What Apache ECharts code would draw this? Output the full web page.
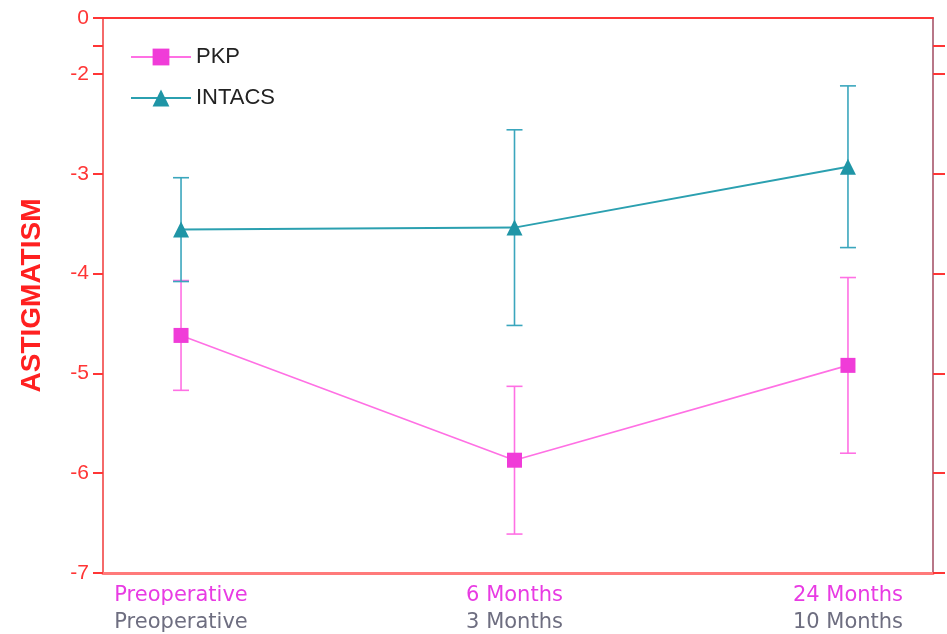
<!DOCTYPE html>
<html>
<head>
<meta charset="utf-8">
<script src="https://cdn.jsdelivr.net/npm/echarts@6/dist/echarts.min.js"></script>
<style>
html,body{margin:0;padding:0;background:#fff;}
#chart{width:947px;height:634px;}
</style>
</head>
<body>
<div id="chart"></div>
<script>
// ---- data ----
var categories = ['Preoperative', '6 Months', '24 Months'];
var categoriesSecondary = ['Preoperative', '3 Months', '10 Months'];
var pkpMean = [-4.62, -5.87, -4.92];
var pkpErr = [0.55, 0.74, 0.88];
var intacsMean = [-3.56, -3.54, -2.93];
var intacsErr = [0.52, 0.98, 0.81];
var yTickValues = [-7, -6, -5, -4, -3, -2];
var yTopValue = -1.44;      // broken-axis top, labelled "0"
var yTopLabel = '0';
var yBreakCap = -1.72;

var PKP_COLOR = '#f03cd8';
var PKP_LINE = '#ff70e4';
var INT_COLOR = '#1f95a6';
var INT_LINE = '#2ba0b0';
var INT_ERR = '#3aa6bd';
var AXIS_RED = '#ff3535';

function pairs(arr) { return arr.map(function (v, i) { return [i, v]; }); }
function errData(mean, err) {
  return mean.map(function (v, i) { return [i, v - err[i], v + err[i]]; });
}
function errRender(color) {
  return function (params, api) {
    var x = api.value(0);
    var lo = api.coord([x, api.value(1)]);
    var hi = api.coord([x, api.value(2)]);
    var half = 8;
    var st = { stroke: color, lineWidth: 1.6 };
    return {
      type: 'group',
      children: [
        { type: 'line', shape: { x1: lo[0], y1: lo[1], x2: hi[0], y2: hi[1] }, style: st },
        { type: 'line', shape: { x1: lo[0] - half, y1: lo[1], x2: lo[0] + half, y2: lo[1] }, style: st },
        { type: 'line', shape: { x1: hi[0] - half, y1: hi[1], x2: hi[0] + half, y2: hi[1] }, style: st }
      ]
    };
  };
}

var chart = echarts.init(document.getElementById('chart'));
var allTicks = yTickValues.concat([yBreakCap, yTopValue]);
var option = {
  animation: false,
  backgroundColor: '#ffffff',
  grid: { left: 103, right: 14, top: 18, bottom: 61, containLabel: false },
  legend: {
    data: ['PKP', 'INTACS'],
    orient: 'vertical',
    left: 125,
    top: 41,
    itemWidth: 60,
    itemHeight: 21,
    itemGap: 19,
    textStyle: { fontFamily: 'Liberation Sans, Arial, sans-serif', fontSize: 22, color: '#222' }
  },
  xAxis: [
    {
      type: 'value',
      min: -0.234,
      max: 2.255,
      position: 'bottom',
      splitLine: { show: false },
      axisLine: { show: true, onZero: false, lineStyle: { color: '#ff7a7a', width: 3 } },
      axisTick: { show: false },
      axisLabel: {
        customValues: [0, 1, 2],
        margin: 9,
        formatter: function (v) {
          var i = Math.round(v);
          return '{a|' + categories[i] + '}\n{b|' + categoriesSecondary[i] + '}';
        },
        rich: {
          a: { fontFamily: 'DejaVu Sans, sans-serif', fontSize: 21, color: '#e83be3', lineHeight: 27 },
          b: { fontFamily: 'DejaVu Sans, sans-serif', fontSize: 21, color: '#6e6e80', lineHeight: 27 }
        }
      }
    },
    {
      type: 'value',
      min: -0.234,
      max: 2.255,
      position: 'top',
      splitLine: { show: false },
      axisLine: { show: true, onZero: false, lineStyle: { color: AXIS_RED, width: 2 } },
      axisTick: { show: false },
      axisLabel: { show: false }
    }
  ],
  yAxis: [
    {
      type: 'value',
      min: -7,
      max: yTopValue,
      position: 'left',
      name: 'ASTIGMATISM',
      nameLocation: 'middle',
      nameRotate: 90,
      nameGap: 57,
      nameTextStyle: { fontFamily: 'Liberation Sans, Arial, sans-serif', fontSize: 28, fontWeight: 'bold', color: '#ff2020' },
      splitLine: { show: false },
      axisLine: { show: true, onZero: false, lineStyle: { color: '#f46a6a', width: 2 } },
      axisTick: { show: true, length: 10, customValues: allTicks, lineStyle: { color: AXIS_RED, width: 2 } },
      axisLabel: {
        customValues: yTickValues.concat([yTopValue]),
        margin: 14,
        fontFamily: 'Liberation Sans, Arial, sans-serif',
        fontSize: 21,
        color: AXIS_RED,
        formatter: function (v) { return v === yTopValue ? yTopLabel : String(v); }
      }
    },
    {
      type: 'value',
      min: -7,
      max: yTopValue,
      position: 'right',
      splitLine: { show: false },
      axisLine: { show: true, onZero: false, lineStyle: { color: '#a04a60', width: 1.5 } },
      axisTick: { show: true, length: 12, customValues: [-7, -6, -5, -4, -3, -2, yBreakCap], lineStyle: { color: AXIS_RED, width: 2 } },
      axisLabel: { show: false }
    }
  ],
  series: [
    {
      name: 'PKP err',
      type: 'custom',
      renderItem: errRender(PKP_LINE),
      data: errData(pkpMean, pkpErr),
      z: 1
    },
    {
      name: 'INTACS err',
      type: 'custom',
      renderItem: errRender(INT_ERR),
      data: errData(intacsMean, intacsErr),
      z: 1
    },
    {
      name: 'PKP',
      type: 'line',
      data: pairs(pkpMean),
      symbol: 'rect',
      symbolSize: 15,
      color: PKP_COLOR,
      itemStyle: { color: PKP_COLOR },
      lineStyle: { color: PKP_LINE, width: 1.6 },
      z: 3
    },
    {
      name: 'INTACS',
      type: 'line',
      data: pairs(intacsMean),
      symbol: 'triangle',
      symbolSize: 16,
      color: INT_COLOR,
      itemStyle: { color: INT_COLOR },
      lineStyle: { color: INT_LINE, width: 2 },
      z: 3
    }
  ]
};
chart.setOption(option);
</script>
</body>
</html>
